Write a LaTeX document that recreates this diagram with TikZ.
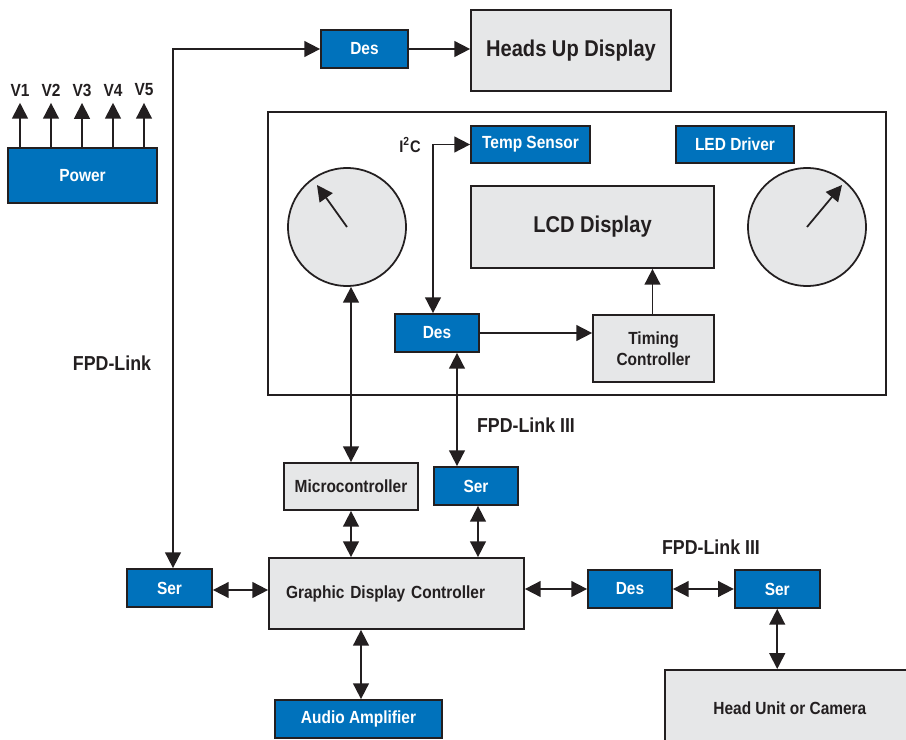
\documentclass[tikz,border=0pt]{standalone}
\usepackage{fontspec}
\setmainfont{Liberation Sans}[FakeStretch=0.88]
\usetikzlibrary{arrows.meta,positioning,calc}
\definecolor{tiblue}{RGB}{0,114,188}
\definecolor{tigray}{RGB}{230,231,232}
\definecolor{tiline}{RGB}{35,31,32}

\begin{document}
\begin{tikzpicture}[x=0.02cm,y=-0.02cm,>={Triangle[length=9pt,width=9pt]},
                    line width=1pt,draw=tiline]
    \tikzstyle{blk}=[draw=tiline,fill=tiblue,text=white,inner sep=0pt,
        font=\bfseries\fontsize{10}{11.5}\selectfont]
    \tikzstyle{gry}=[draw=tiline,fill=tigray,text=tiline,inner sep=0pt,
        font=\bfseries\fontsize{10}{12}\selectfont,align=center]
    \tikzstyle{lbl}=[text=tiline,font=\bfseries\fontsize{11.5}{13}\selectfont]
    \tikzstyle{gauge}=[circle,draw=tiline,fill=tigray,minimum size=2.36cm,inner sep=0pt]

    \clip (0,0) rectangle (906,740);

    % display module frame
    \draw[tiline] (268,112) rectangle (886,395);

    \node[gry,minimum width=4cm,minimum height=1.62cm,
          font=\bfseries\fontsize{13}{15}\selectfont] (hud) at (571,50.5) {Heads Up Display};
    \node[blk,minimum width=1.74cm,minimum height=0.76cm] (desT) at (364.5,49) {Des};
    \node[blk,minimum width=2.98cm,minimum height=1.1cm] (pwr) at (82.5,175.5) {Power};

    \node[blk,minimum width=2.38cm,minimum height=0.74cm] (temp) at (530.5,144.5) {Temp Sensor};
    \node[blk,minimum width=2.36cm,minimum height=0.74cm] (led) at (735,144.5) {LED Driver};
    \node[gry,minimum width=4.86cm,minimum height=1.64cm,
          font=\bfseries\fontsize{13}{15}\selectfont] (lcd) at (592.5,227) {LCD Display};
    \node[gauge] (cL) at (347,227) {};
    \node[gauge] (cR) at (807,227) {};
    \node[blk,minimum width=1.68cm,minimum height=0.76cm] (desM) at (437,333) {Des};
    \node[gry,minimum width=2.42cm,minimum height=1.34cm] (tcon) at (653.5,348.5) {Timing\\Controller};
    \node[text=tiline,font=\bfseries\fontsize{9.5}{11}\selectfont] (i2c) at (410,145) {I\textsuperscript{2}C};

    \node[gry,minimum width=2.68cm,minimum height=0.94cm] (mcu) at (351,486.5) {Microcontroller};
    \node[blk,minimum width=1.68cm,minimum height=0.76cm] (serM) at (476,486) {Ser};
    \node[gry,minimum width=5.1cm,minimum height=1.42cm,text width=4.42cm,
          align=left] (gdc) at (396.5,593.5) {Graphic Display Controller};
    \node[blk,minimum width=1.7cm,minimum height=0.76cm] (serL) at (169.5,588) {Ser};
    \node[blk,minimum width=3.34cm,minimum height=0.76cm] (audio) at (358.5,719) {Audio Amplifier};
    \node[blk,minimum width=1.68cm,minimum height=0.76cm] (desR) at (630,589) {Des};
    \node[blk,minimum width=1.7cm,minimum height=0.76cm] (serR) [right=1.22cm of desR] {Ser};
    \node[gry,minimum width=5cm,minimum height=1.52cm,anchor=north west] (head) at (664,669) {Head Unit or Camera};

    \node[lbl] (fpd) at (112,363) {FPD-Link};
    \node[lbl] (fpdM) at (526,425) {FPD-Link III};
    \node[lbl] (fpdR) at (711,547) {FPD-Link III};

    % supply rails
    \foreach \i/\x in {1/20,2/51,3/82,4/113,5/144} {
        \node[text=tiline,font=\bfseries\fontsize{10}{11}\selectfont] (v\i) at (\x,90) {V\i};
        \draw[->] (pwr.north -| v\i) -- (v\i.south);
    }

    % gauge needles
    \draw[->] (cL.center) -- (317,185);
    \draw[->] (cR.center) -- (842,185);

    \coordinate (lnk) at ($(desM.south)+(20,0)$);

    \draw[->] (desT.east) -- (desT.east -| hud.west);
    \draw[<->] ([xshift=0.07cm]serL.north) |- (desT.west);
    \draw[<->] (temp.west) -| ([xshift=-0.08cm]desM.north);
    \draw[->] (desM.east) -- (desM.east -| tcon.west);
    \draw[->] ([xshift=-0.02cm]tcon.north) -- ([xshift=-0.02cm]tcon.north |- lcd.south);
    \draw[<->] (mcu.north) -- (mcu.north |- cL.south);
    \draw[<->] (lnk) -- (lnk |- serM.north);
    \draw[<->] (mcu.south) -- (mcu.south |- gdc.north);
    \draw[<->] ([xshift=0.04cm]serM.south) -- ([xshift=0.04cm]serM.south |- gdc.north);
    \draw[<->] ([yshift=-0.04cm]serL.east) -- ([yshift=-0.04cm]serL.east -| gdc.west);
    \draw[<->] (desR.west -| gdc.east) -- (desR.west);
    \draw[<->] (desR.east) -- (serR.west);
    \draw[<->] (serR.south) -- (serR.south |- head.north);
    \draw[<->] ([xshift=0.05cm]audio.north) -- ([xshift=0.05cm]audio.north |- gdc.south);

\end{tikzpicture}
\end{document}
